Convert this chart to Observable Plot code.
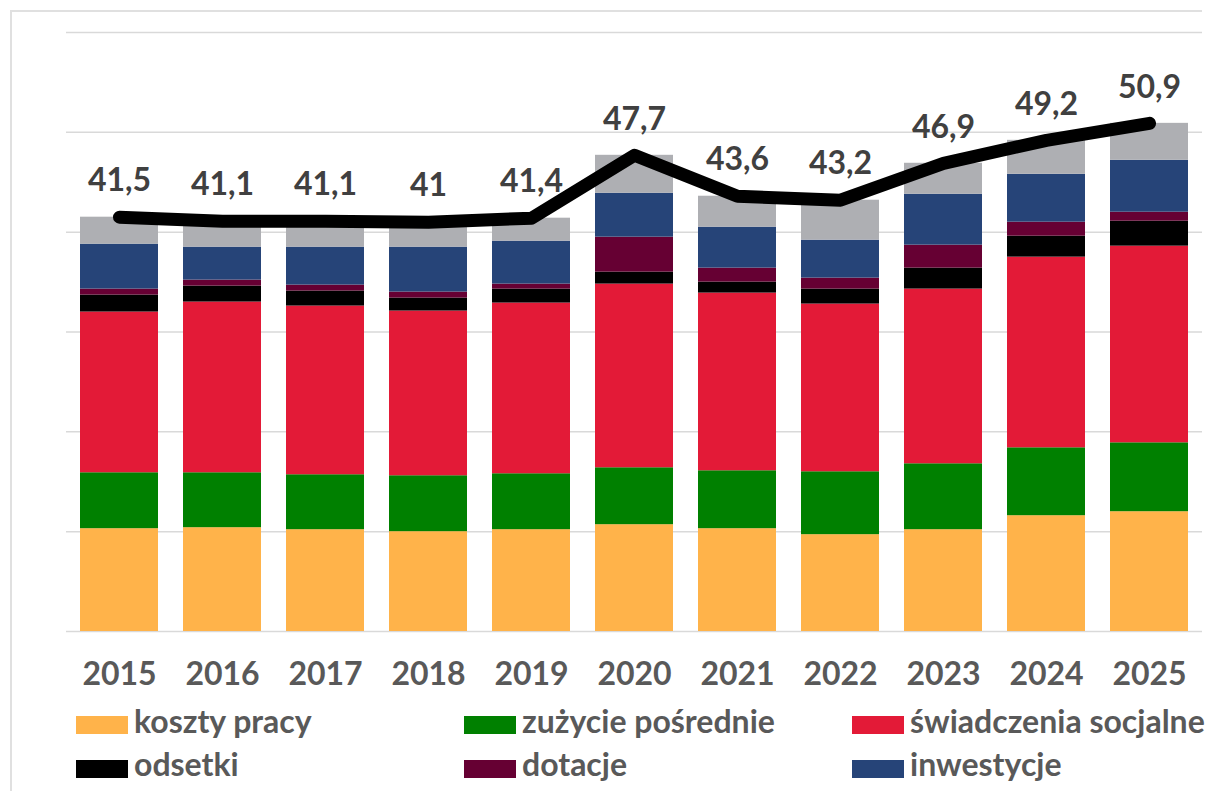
<!DOCTYPE html>
<html>
<head>
<meta charset="utf-8">
<script src="https://cdn.jsdelivr.net/npm/d3@7"></script>
<script src="https://cdn.jsdelivr.net/npm/@observablehq/plot@0.6"></script>
<style>
  html, body { margin: 0; padding: 0; background: #fff; }
  #wrap { position: relative; width: 1208px; height: 791px; overflow: hidden; font-family: Lato, "Open Sans", sans-serif; }
  #frame { position: absolute; left: 10px; top: 10px; width: 1192px; height: 820px; border-top: 2px solid #e0e0e0; border-left: 2px solid #e0e0e0; box-sizing: border-box; }
  #chart { position: absolute; left: 0; top: 0; }
  .sw { position: absolute; width: 52px; height: 18px; }
  .lt { position: absolute; font-size: 32px; line-height: 32px; font-weight: bold; color: #595959; white-space: nowrap; }
</style>
</head>
<body>
<div id="wrap">
  <div id="frame"></div>
  <div id="chart"></div>
  <div id="legend"></div>
</div>
<script>
// ---- data ----
const years = ["2015","2016","2017","2018","2019","2020","2021","2022","2023","2024","2025"];
const kosztyPracy   = [10.3, 10.4, 10.2, 10.0, 10.2, 10.7, 10.3,  9.7, 10.2, 11.6, 12.0];
const zuzycie       = [ 5.6,  5.5,  5.5,  5.6,  5.6,  5.7,  5.8,  6.3,  6.6,  6.8,  6.9];
const swiadczenia   = [16.1, 17.1, 16.9, 16.5, 17.1, 18.4, 17.8, 16.8, 17.5, 19.1, 19.7];
const odsetki       = [ 1.7,  1.6,  1.5,  1.3,  1.4,  1.2,  1.1,  1.5,  2.1,  2.1,  2.5];
const dotacje       = [ 0.6,  0.6,  0.6,  0.6,  0.5,  3.5,  1.4,  1.1,  2.3,  1.4,  0.9];
const inwestycje    = [ 4.5,  3.3,  3.8,  4.5,  4.3,  4.4,  4.1,  3.8,  5.1,  4.8,  5.2];
const pozostale     = [ 2.7,  2.6,  2.6,  2.5,  2.3,  3.8,  3.1,  4.0,  3.1,  3.4,  3.7];
const total         = [41.5, 41.1, 41.1, 41.0, 41.4, 47.7, 43.6, 43.2, 46.9, 49.2, 50.9];
const seriesNames   = ["koszty pracy", "zużycie pośrednie", "świadczenia socjalne", "odsetki", "dotacje", "inwestycje", "pozostałe"];
const seriesColors  = ["#FFB34A", "#008000", "#E31A37", "#000000", "#660033", "#264478", "#AEAFB3"];
const legendNames   = ["koszty pracy", "zużycie pośrednie", "świadczenia socjalne", "odsetki", "dotacje", "inwestycje"];
const yTicks        = [0, 10, 20, 30, 40, 50, 60];

// ---- build tables ----
const seriesValues = [kosztyPracy, zuzycie, swiadczenia, odsetki, dotacje, inwestycje, pozostale];
const rows = [];
seriesNames.forEach((s, i) => {
  years.forEach((y, j) => rows.push({year: y, series: s, value: seriesValues[i][j]}));
});
const totals = years.map((y, j) => ({year: y, total: total[j], label: String(total[j]).replace(".", ",")}));

const chart = Plot.plot({
  width: 1208,
  height: 700,
  marginLeft: 66,
  marginRight: 6,
  marginTop: 32,
  marginBottom: 69,
  style: {fontFamily: "Lato, 'Open Sans', sans-serif", color: "#595959", background: "transparent"},
  x: {domain: years, type: "band", paddingInner: 0.244, paddingOuter: 0.122, label: null},
  y: {domain: [0, 60], axis: null},
  color: {domain: seriesNames, range: seriesColors},
  marks: [
    Plot.ruleY(yTicks, {stroke: "#d9d9d9", strokeWidth: 1.5}),
    Plot.barY(rows, {x: "year", y: "value", fill: "series", order: seriesNames}),
    Plot.lineY(totals, {x: "year", y: "total", stroke: "#000", strokeWidth: 13, strokeLinecap: "round", strokeLinejoin: "round"}),
    Plot.text(totals, {x: "year", y: "total", text: "label", dy: -36, fontSize: 32, fontWeight: "bold", fill: "#404040"}),
    Plot.axisX({tickSize: 0, tickPadding: 31, fontSize: 32, fontWeight: "bold", fill: "#595959", label: null})
  ]
});
document.getElementById("chart").appendChild(chart);

// ---- legend ----
const legend = document.getElementById("legend");
legendNames.forEach((name, i) => {
  const col = i % 3, row = Math.floor(i / 3);
  const x = 76 + col * 388;
  const swTop = 716 + row * 43.5;
  const sw = document.createElement("div");
  sw.className = "sw";
  sw.style.left = x + "px";
  sw.style.top = swTop + "px";
  sw.style.background = seriesColors[seriesNames.indexOf(name)];
  legend.appendChild(sw);
  const t = document.createElement("div");
  t.className = "lt";
  t.style.left = (x + 58) + "px";
  t.style.top = (704.6 + row * 43.5) + "px";
  t.textContent = name;
  legend.appendChild(t);
});
</script>
</body>
</html>
